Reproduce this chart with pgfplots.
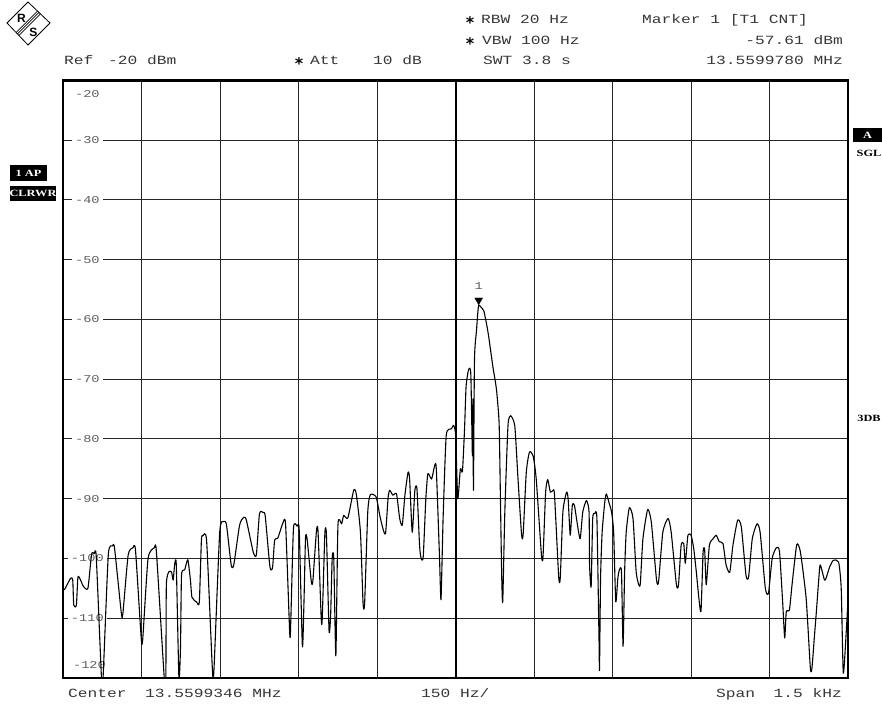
\documentclass[border=0pt]{standalone}
\usepackage{fontspec}
\usepackage{pgfplots}
\usepackage{pgfplotstable}
\pgfplotsset{compat=1.18}
\setmainfont{Liberation Sans}
\newfontfamily\hdr[FakeStretch=1.3]{Liberation Mono}
\newfontfamily\bsf[FakeStretch=1.3]{Liberation Serif}
\newfontfamily\djfont{DejaVu Sans}
\definecolor{txt}{RGB}{55,55,55}
\definecolor{lbl}{RGB}{95,95,95}
\pgfplotstableread{
f p
-750 -105.3
-747 -105.1
-736 -103.3
-732 -103.6
-730 -107.8
-725 -107.8
-722 -103.1
-717 -103.6
-712 -104.6
-703 -105.0
-696 -99.3
-691 -99.2
-687 -99.7
-677 -120.0
-674 -120.0
-664 -99.4
-656 -97.9
-652 -98.3
-639 -109.2
-636 -109.1
-626 -99.4
-617 -98.2
-612 -98.6
-601 -113.4
-598 -113.3
-588 -100.0
-576 -98.2
-572 -98.9
-557 -120.0
-554 -120.0
-553 -104.4
-548 -102.2
-543 -102.3
-540 -103.6
-537 -100.9
-534 -101.1
-529 -120.0
-526 -115.0
-524 -102.8
-518 -101.9
-512 -100.2
-507 -103.6
-504 -106.5
-495 -107.3
-490 -107.3
-486 -96.9
-483 -96.2
-476 -97.1
-465 -118.6
-462 -118.6
-451 -95.6
-443 -93.8
-438 -94.4
-429 -101.1
-424 -101.0
-413 -94.4
-405 -93.1
-400 -93.6
-387 -98.9
-381 -99.4
-375 -92.5
-368 -92.3
-364 -92.9
-355 -101.4
-350 -101.5
-346 -96.9
-340 -96.6
-330 -94.0
-325 -94.4
-317 -112.8
-315 -110.0
-310 -94.9
-303 -94.6
-299 -95.3
-293 -114.7
-290 -107.5
-287 -96.6
-284 -96.7
-276 -103.8
-273 -103.8
-266 -95.3
-263 -95.6
-257 -110.0
-255 -110.0
-250 -95.8
-247 -96.1
-242 -112.1
-239 -109.5
-236 -99.9
-233 -100.0
-229 -116.3
-225 -94.4
-218 -94.2
-214 -92.8
-206 -93.2
-195 -88.6
-190 -89.2
-182 -95.6
-177 -107.5
-174 -107.5
-168 -92.2
-163 -89.3
-152 -89.7
-145 -92.8
-139 -95.0
-134 -95.8
-129 -89.7
-126 -88.6
-120 -89.4
-113 -89.2
-107 -93.3
-102 -94.4
-97 -89.4
-91 -85.6
-88 -86.7
-83 -95.6
-78 -88.6
-74 -88.3
-69 -97.8
-66 -100.0
-62 -99.7
-57 -90.0
-53 -85.8
-46 -86.7
-40 -84.4
-37 -85.0
-31 -99.4
-28 -106.9
-24 -93.3
-18 -79.4
-8 -78.3
-4 -77.7
0 -79.4
4 -90.0
9 -85.0
13 -85.4
17 -78.3
20 -71.1
25 -68.3
29 -69.2
32 -82.8
33 -73.3
34 -88.6
36 -66.7
40 -61.7
42 -59.2
44 -57.6
48 -57.9
54 -58.6
62 -62.2
71 -67.8
78 -71.7
83 -77.2
85 -86.7
88 -102.8
90 -107.2
94 -92.2
100 -77.8
105 -76.1
113 -77.8
119 -86.4
126 -96.0
129 -96.0
135 -85.6
141 -82.2
148 -82.8
154 -86.7
164 -99.4
167 -99.7
172 -88.9
176 -86.8
181 -88.9
186 -88.6
189 -89.4
197 -103.1
200 -103.2
205 -92.2
212 -88.9
215 -90.0
219 -96.1
223 -91.1
227 -91.1
232 -93.9
238 -96.7
243 -92.2
250 -90.3
255 -92.2
256 -101.1
259 -104.7
262 -93.3
266 -92.5
270 -93.3
274 -113.3
275 -118.6
277 -103.3
280 -95.6
285 -90.6
288 -89.2
293 -90.6
298 -92.2
302 -95.6
306 -107.2
310 -103.3
313 -101.9
317 -102.2
320 -114.7
323 -102.2
326 -95.6
332 -91.5
339 -93.3
345 -102.2
350 -104.4
353 -104.2
358 -96.7
367 -91.8
374 -93.9
384 -103.6
388 -103.8
396 -95.6
406 -93.3
412 -95.6
422 -104.4
426 -104.4
431 -97.8
436 -97.5
439 -100.8
444 -96.1
450 -96.1
455 -98.3
460 -102.2
465 -106.7
469 -108.8
473 -98.9
476 -98.6
479 -104.4
485 -97.8
492 -96.7
498 -96.1
504 -97.2
511 -97.5
517 -101.1
524 -102.3
530 -97.8
539 -93.6
546 -94.7
555 -102.8
560 -103.1
567 -96.7
576 -94.2
582 -95.6
592 -105.0
598 -105.8
605 -100.0
613 -98.2
619 -98.8
625 -107.2
629 -113.3
632 -108.9
638 -108.6
643 -104.4
652 -97.7
659 -98.9
670 -106.7
678 -118.3
681 -118.4
686 -112.8
689 -109.5
696 -101.4
699 -101.6
705 -103.6
708 -103.3
715 -101.4
722 -100.3
732 -100.6
737 -105.0
741 -119.2
747 -111.7
750 -106.7
}\trace
\begin{document}
\begin{tikzpicture}[x=1pt,y=1pt]
\path (0,0) rectangle (882,706);
\begin{axis}[
  at={(63.3pt,28pt)}, anchor=south west,
  scale only axis, width=784.7pt, height=597.5pt,
  xmin=-750, xmax=750, ymin=-120, ymax=-20,
  xtick={-600,-450,-300,-150,150,300,450,600},
  ytick={-110,-100,...,-30},
  xticklabels={}, yticklabels={},
  major tick length=0pt,
  grid=major,
  grid style={black!85, line width=1pt},
  extra x ticks={0}, extra x tick labels={},
  extra x tick style={grid style={black, line width=2pt}},
  axis line style={black, line width=2.2pt},
  clip=true,
]
\pgfplotsinvokeforeach{-30,-40,-50,-60,-70,-80,-90,-100,-110}{
  \node[fill=white, inner xsep=3pt, inner ysep=1pt, font=\hdr\fontsize{10.5}{10.5}\selectfont, text=lbl] at (axis cs:-704,#1) {#1};
}
\node[font=\hdr\fontsize{10.5}{10.5}\selectfont, text=lbl] at (axis cs:-704,-22.3) {-20};
\node[font=\hdr\fontsize{10.5}{10.5}\selectfont, text=lbl] at (axis cs:-700,-117.8) {-120};
\addplot[black, line width=1.1pt, line join=round, smooth, tension=0.35] table[x=f,y=p]{\trace};
\addplot[only marks, mark=triangle*, mark size=4.5pt, mark options={fill=black, draw=black, yshift=5pt, rotate=180}] coordinates {(44,-57.61)};
\node[font=\hdr\fontsize{10.5}{10.5}\selectfont, text=lbl] at (axis cs:44,-57.61) [yshift=19pt] {1};
\end{axis}
% header texts
\begin{scope}[every node/.style={font=\hdr\fontsize{12.5}{12.5}\selectfont, text=txt, inner sep=0pt}]
\node[anchor=base west] at (481,682) {RBW 20 Hz};
\node[anchor=base west] at (642,682) {Marker 1 [T1 CNT]};
\node[anchor=base west] at (482,661) {VBW 100 Hz};
\node[anchor=base east] at (843,661) {-57.61 dBm};
\node[anchor=base west] at (64,641) {Ref};
\node[anchor=base west] at (108,641) {-20 dBm};
\node[anchor=base west] at (310,641) {Att};
\node[anchor=base west] at (373,641) {10 dB};
\node[anchor=base west] at (483,641) {SWT 3.8 s};
\node[anchor=base east] at (843,641) {13.5599780 MHz};
\node[anchor=base west] at (68,8.5) {Center};
\node[anchor=base west] at (145,8.5) {13.5599346 MHz};
\node[anchor=base west] at (421,8.5) {150 Hz/};
\node[anchor=base west] at (716,8.5) {Span};
\node[anchor=base east] at (842,8.5) {1.5 kHz};
\end{scope}
\begin{scope}[every node/.style={font=\djfont\bfseries\fontsize{16}{16}\selectfont, inner sep=0pt}]
\node at (470,683) {*};
\node at (470,662) {*};
\node at (299,642) {*};
\end{scope}
% side boxes
\fill[black] (10,525) rectangle (47,541);
\node[text=white, font=\bsf\bfseries\fontsize{9.5}{9.5}\selectfont] at (28.5,533) {1 AP};
\fill[black] (10,505) rectangle (56,520);
\node[text=white, font=\bsf\bfseries\fontsize{9.5}{9.5}\selectfont] at (33,512.5) {CLRWR};
\fill[black] (853,564) rectangle (882,578);
\node[text=white, font=\bsf\bfseries\fontsize{9.5}{9.5}\selectfont] at (867.5,571) {A};
\node[font=\bsf\bfseries\fontsize{9.5}{9.5}\selectfont] at (869,553) {SGL};
\node[font=\bsf\bfseries\fontsize{9.5}{9.5}\selectfont] at (869,288) {3DB};
% logo
\draw[line width=0.8pt, line join=miter] (7,683) -- (28,704) -- (50,683) -- (28,661) -- cycle;
\draw[line width=0.7pt] (40.4,692.1) -- (18.9,670.6);
\draw[line width=0.7pt] (39,693.5) -- (17.5,672);
\draw[line width=0.7pt] (37.6,694.9) -- (16.1,673.4);
\node[font=\bfseries\fontsize{12}{12}\selectfont, inner sep=0pt] at (21.5,688) {R};
\node[font=\bfseries\fontsize{12}{12}\selectfont, inner sep=0pt] at (33.5,674) {S};
\pgfresetboundingbox
\path (0,0) rectangle (882,706);
\end{tikzpicture}
\end{document}
